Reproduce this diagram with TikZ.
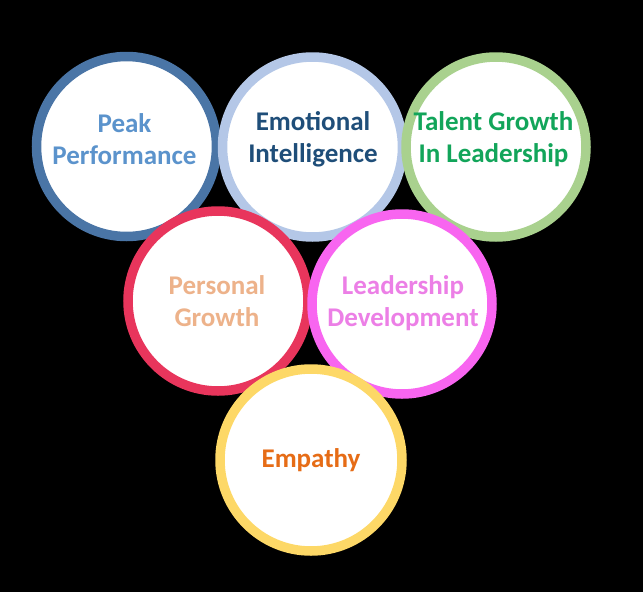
\documentclass[tikz,border=0pt]{standalone}
\usepackage{fontspec}
\setmainfont{Carlito}
\definecolor{bPeak}{HTML}{4A75A6}
\definecolor{tPeak}{HTML}{5B93CC}
\definecolor{bEmo}{HTML}{B4C7E7}
\definecolor{tEmo}{HTML}{1F4E79}
\definecolor{bTal}{HTML}{A9D18E}
\definecolor{tTal}{HTML}{12A55A}
\definecolor{bPer}{HTML}{E8355C}
\definecolor{tPer}{HTML}{EDB28A}
\definecolor{bLea}{HTML}{F865F0}
\definecolor{tLea}{HTML}{EC7FE6}
\definecolor{bEmp}{HTML}{FDD867}
\definecolor{tEmp}{HTML}{E66C16}
\tikzset{
  ring/.style={circle, draw=#1, line width=9.5pt, fill=white, minimum size=180pt, inner sep=0pt},
  lbl/.style={text=#1, font=\fontsize{27}{32}\selectfont\bfseries, align=center},
}
\begin{document}
\begin{tikzpicture}[x=1pt,y=-1pt]
\fill[black] (0,0) rectangle (643,592);
\useasboundingbox (0,0) rectangle (643,592);
\node[ring=bPeak] (c1) at (126.5,146.5) {};
\node[ring=bEmo] (c2) at (312.5,147) {};
\node[ring=bTal] (c3) at (496,147) {};
\node[ring=bPer] (c4) at (218,301) {};
\node[ring=bLea] (c5) at (402,304) {};
\node[ring=bEmp, minimum size=182pt] (c6) at (311,460) {};
\node[lbl=tPeak] (t1) at (124.5,139) {Peak\\Performance};
\node[lbl=tEmo] (t2) at (313,139) {Emotional\\Intelligence};
\node[lbl=tTal] (t3) at (493.5,139) {Talent Growth\\In Leadership};
\node[lbl=tPer] (t4) at (217,301) {Personal\\Growth};
\node[lbl=tLea] (t5) at (403,303) {Leadership\\Development};
\node[lbl=tEmp] (t6) at (311,460) {Empathy};
\end{tikzpicture}
\end{document}
